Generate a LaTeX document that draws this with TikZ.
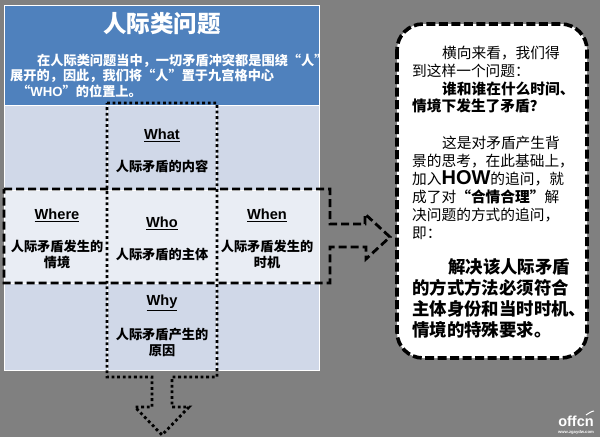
\documentclass[tikz,border=0pt]{standalone}
\usepackage{fontspec}
\setmainfont{Noto Sans CJK SC}
\newfontfamily\latinf{Liberation Sans}
\newcommand{\fs}[2]{\fontsize{#1}{#2}\selectfont}
\newcommand{\hd}[1]{\underline{\latinf\bfseries #1}}
\definecolor{bggray}{HTML}{808080}
\definecolor{hdblue}{HTML}{4F81BD}
\definecolor{bandA}{HTML}{D0D8E8}
\definecolor{bandB}{HTML}{E9EDF4}
\tikzset{
  celltext/.style={inner sep=0pt,align=center,font=\bfseries\fs{13.2}{16},text=black},
  headtext/.style={inner sep=0pt,font=\latinf\bfseries\fs{14.6}{16},text=black},
  dotline/.style={draw=black,line width=2.8pt,dash pattern=on 2.8pt off 2.8pt},
  dashline/.style={draw=black,line width=2.8pt,dash pattern=on 8pt off 4pt},
  sidetext/.style={inner sep=0pt,anchor=north west,align=left,text=black}
}
\begin{document}
\begin{tikzpicture}[x=1pt,y=-1pt]
\useasboundingbox (0,0) rectangle (600,437);
\fill[bggray] (0,0) rectangle (600,437);
% table
\fill[hdblue] (4,5) rectangle (319,105);
\draw[white,line width=0.8pt] (4,5) rectangle (319,105);
\fill[bandA] (4,105) rectangle (319,190);
\fill[bandB] (4,190) rectangle (319,283);
\fill[bandA] (4,283) rectangle (319,370);
\draw[white,line width=0.8pt] (4,105) rectangle (319,370) (4,190) -- (319,190) (4,283) -- (319,283) (107,105) -- (107,370) (216,105) -- (216,370);
% header text
\node[inner sep=0pt,text=white,font=\bfseries\fs{23.5}{26}] (title) at (162,24) {人际类问题};
\node[inner sep=0pt,anchor=north west,align=left,text=white,font=\bfseries\fs{13.2}{15.6}] (intro) at (10,53.5)
  {\hspace{27pt}在人际类问题当中，一切矛盾冲突都是围绕“人”\\展开的，因此，我们将“人”置于九宫格中心\\\hspace{7pt}“{\latinf WHO}”的位置上。};
% cells
\node[headtext] (what) at (162,135) {\hd{What}};
\node[celltext] (whattxt) at (162,166) {人际矛盾的内容};
\node[headtext] (where) at (57,215) {\hd{Where}};
\node[celltext] (wheretxt) at (57,254) {人际矛盾发生的\\情境};
\node[headtext] (who) at (162,223) {\hd{Who}};
\node[celltext] (whotxt) at (162,254) {人际矛盾的主体};
\node[headtext] (when) at (267,215) {\hd{When}};
\node[celltext] (whentxt) at (267,254) {人际矛盾发生的\\时机};
\node[headtext] (why) at (162,303) {\hd{Why}};
\node[celltext] (whytxt) at (162,342) {人际矛盾产生的\\原因};
% dotted outline with down arrow
\draw[dotline,line join=miter] (107,103) -- (217,103) -- (217,377) -- (172,377) -- (172,407) -- (189,407) -- (162,435) -- (135,407) -- (152,407) -- (152,377) -- (107,377) -- cycle;
% dashed outline with right arrow
\draw[dashline,line join=miter] (4,189) -- (330,189) -- (330,224) -- (365,224) -- (365,214) -- (390,237) -- (366,259) -- (366,247) -- (330,247) -- (330,283) -- (4,283) -- cycle;
% rounded panel
\draw[draw=black,fill=white,line width=3.6pt,dash pattern=on 9pt off 3.5pt,rounded corners=26pt] (397,24) rectangle (587,358);
\node[sidetext,font=\fs{14.7}{17.8}] (p1) at (412,46) {\hspace{30pt}横向来看，我们得\\到这样一个问题：\\{\bfseries\hspace{30pt}谁和谁在什么时间、}\\{\bfseries 情境下发生了矛盾？}};
\node[sidetext,font=\fs{14.7}{18}] (p2) at (412,135.5) {\hspace{30pt}这是对矛盾产生背\\景的思考，在此基础上，\\加入{\latinf\bfseries\fs{20}{18}HOW}的追问，就\\成了对{\bfseries “合情合理”}解\\决问题的方式的追问，\\即：};
\node[sidetext,font=\bfseries\fs{17.4}{21}] (p3) at (412,258.5) {\hspace{36pt}解决该人际矛盾\\的方式方法必须符合\\主体身份和当时时机、\\情境的特殊要求。};
% watermark
\node[inner sep=0pt,text=white,font=\latinf\bfseries\fs{14.5}{15}] (logo) at (576,421.5) {offcn};
\node[inner sep=0pt,text=white,font=\latinf\bfseries\fs{4.2}{5}] (logourl) at (576,432) {www.zgaydw.com};
\draw[white,line width=1pt] (586,415) .. controls (589,413) and (592,411) .. (594,411);
\end{tikzpicture}
\end{document}
